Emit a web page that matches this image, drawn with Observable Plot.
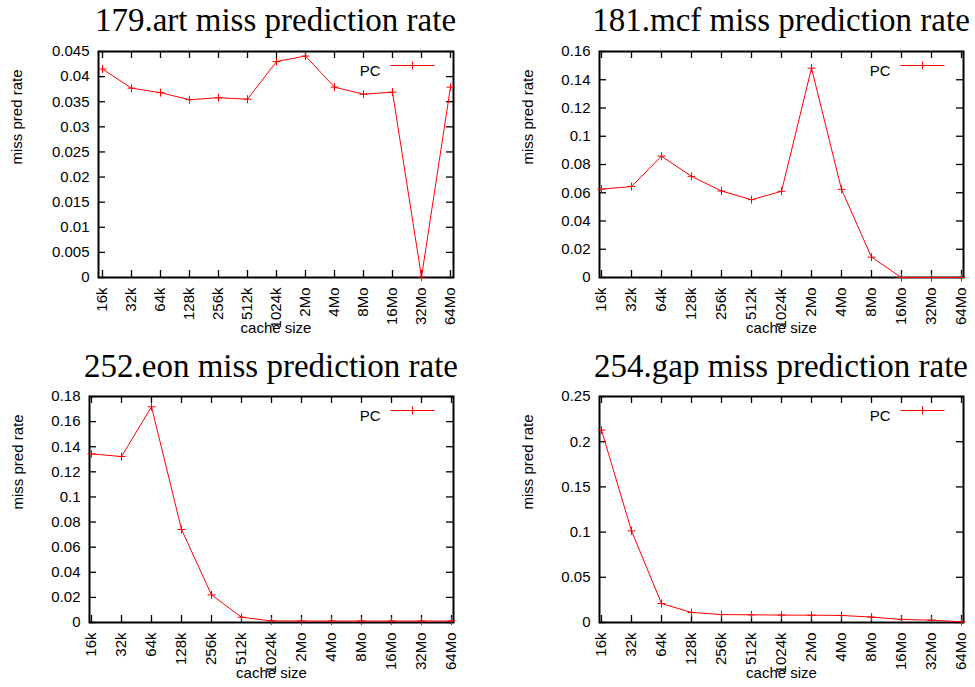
<!DOCTYPE html>
<html>
<head>
<meta charset="utf-8">
<script src="https://cdn.jsdelivr.net/npm/d3@7"></script>
<script src="https://cdn.jsdelivr.net/npm/@observablehq/plot@0.6"></script>
<style>
  html, body { margin: 0; padding: 0; background: white; }
  #root { position: relative; width: 975px; height: 687px; overflow: hidden; background: white; }
  .panel { position: absolute; }
  .title { position: absolute; font-family: "Liberation Serif", "Times New Roman", serif; font-size: 33px; line-height: 33px; white-space: nowrap; color: #000; transform: translateX(-50%); }
</style>
</head>
<body>
<div id="root"></div>
<script>
// ---- data ----
const sizes = ["16k", "32k", "64k", "128k", "256k", "512k", "1024k", "2Mo", "4Mo", "8Mo", "16Mo", "32Mo", "64Mo"];
const artRate = [0.0415, 0.0377, 0.0368, 0.0354, 0.0358, 0.0355, 0.0430, 0.0441, 0.0379, 0.0365, 0.0369, 0.0001, 0.0379];
const mcfRate = [0.0626, 0.0644, 0.0859, 0.0716, 0.0612, 0.0551, 0.0610, 0.1482, 0.0624, 0.0144, 0.0, 0.0, 0.0];
const eonRate = [0.1343, 0.1322, 0.1718, 0.0741, 0.0220, 0.0042, 0.0013, 0.0012, 0.0012, 0.0012, 0.0012, 0.0012, 0.0012];
const gapRate = [0.2128, 0.1014, 0.0210, 0.0111, 0.0088, 0.0085, 0.0082, 0.0081, 0.0078, 0.0060, 0.0034, 0.0026, 0.0008];

const artTicks = [0, 0.005, 0.01, 0.015, 0.02, 0.025, 0.03, 0.035, 0.04, 0.045];
const mcfTicks = [0, 0.02, 0.04, 0.06, 0.08, 0.1, 0.12, 0.14, 0.16];
const eonTicks = [0, 0.02, 0.04, 0.06, 0.08, 0.1, 0.12, 0.14, 0.16, 0.18];
const gapTicks = [0, 0.05, 0.1, 0.15, 0.2, 0.25];

const titles = ["179.art miss prediction rate", "181.mcf miss prediction rate", "252.eon miss prediction rate", "254.gap miss prediction rate"];
const yLabel = "miss pred rate";
const xLabel = "cache size";
const seriesName = "PC";

// ---- symbols ----
const crossSymbol = {
  draw(context, size) {
    const h = Math.sqrt(size / Math.PI);
    context.moveTo(-h, 0); context.lineTo(h, 0);
    context.moveTo(0, -h); context.lineTo(0, h);
  }
};
const legendSymbol = {
  draw(context, size) {
    const h = Math.sqrt(size / Math.PI);
    context.moveTo(-22, 0); context.lineTo(22, 0);
    context.moveTo(0, -h); context.lineTo(0, h);
  }
};

// ---- layout ----
const panels = [
  {values: artRate, ticks: artTicks, title: titles[0], left: 0,   top: 40,  width: 487, height: 300, ml: 98,  mr: 34, mt: 11, mb: 63, ylabDx: -81, titleTop: 4.4},
  {values: mcfRate, ticks: mcfTicks, title: titles[1], left: 487, top: 40,  width: 488, height: 300, ml: 112, mr: 12, mt: 11, mb: 63, ylabDx: -71, titleTop: 4.4},
  {values: eonRate, ticks: eonTicks, title: titles[2], left: 0,   top: 385, width: 487, height: 302, ml: 89,  mr: 34, mt: 11, mb: 65, ylabDx: -71.5, titleTop: 349.6},
  {values: gapRate, ticks: gapTicks, title: titles[3], left: 487, top: 385, width: 488, height: 302, ml: 112, mr: 12, mt: 11, mb: 65, ylabDx: -71, titleTop: 349.6}
];

const root = document.getElementById("root");

for (const p of panels) {
  const data = sizes.map((s, i) => ({size: s, rate: p.values[i]}));
  const plotW = p.width - p.ml - p.mr;
  const plotH = p.height - p.mt - p.mb;
  const tl = 7;
  const chart = Plot.plot({
    width: p.width,
    height: p.height,
    marginLeft: p.ml,
    marginRight: p.mr,
    marginTop: p.mt,
    marginBottom: p.mb,
    style: {fontFamily: "'Liberation Sans', Arial, sans-serif", fontSize: "15px", background: "white", color: "black", overflow: "visible"},
    x: {type: "point", domain: sizes, padding: 0},
    y: {domain: [0, p.ticks[p.ticks.length - 1]]},
    marks: [
      // inward ticks, mirrored on all sides
      Plot.tickY(p.ticks, {y: d => d, insetRight: plotW - tl, stroke: "black", strokeWidth: 1.3}),
      Plot.tickY(p.ticks, {y: d => d, insetLeft: plotW - tl, stroke: "black", strokeWidth: 1.3}),
      Plot.tickX(sizes, {x: d => d, insetTop: plotH - tl, stroke: "black", strokeWidth: 1.3}),
      Plot.tickX(sizes, {x: d => d, insetBottom: plotH - tl, stroke: "black", strokeWidth: 1.3}),
      Plot.axisY({ticks: p.ticks, tickSize: 0, tickPadding: 9, tickFormat: d => String(d), label: null}),
      Plot.axisX({tickRotate: -90, tickSize: 0, tickPadding: 10, label: null}),
      Plot.frame({stroke: "black", strokeWidth: 2}),
      Plot.line(data, {x: "size", y: "rate", stroke: "#ff0000", strokeWidth: 1}),
      Plot.dot(data, {x: "size", y: "rate", symbol: crossSymbol, r: 4, stroke: "#ff0000", fill: "none", strokeWidth: 1}),
      // legend
      Plot.text([seriesName], {frameAnchor: "top-right", dx: -73, dy: 14, textAnchor: "end", fill: "black"}),
      Plot.dot([seriesName], {frameAnchor: "top-right", dx: -41, dy: 14, symbol: legendSymbol, r: 4, stroke: "#ff0000", fill: "none", strokeWidth: 1}),
      // axis labels
      Plot.text([yLabel], {frameAnchor: "left", dx: p.ylabDx, rotate: -90, fill: "black"}),
      Plot.text([xLabel], {frameAnchor: "bottom", dy: 55.5, fill: "black"})
    ]
  });
  const div = document.createElement("div");
  div.className = "panel";
  div.style.left = p.left + "px";
  div.style.top = p.top + "px";
  div.appendChild(chart);
  root.appendChild(div);

  const t = document.createElement("div");
  t.className = "title";
  t.textContent = p.title;
  t.style.left = (p.left + p.ml + plotW / 2) + "px";
  t.style.top = p.titleTop + "px";
  root.appendChild(t);
}
</script>
</body>
</html>
